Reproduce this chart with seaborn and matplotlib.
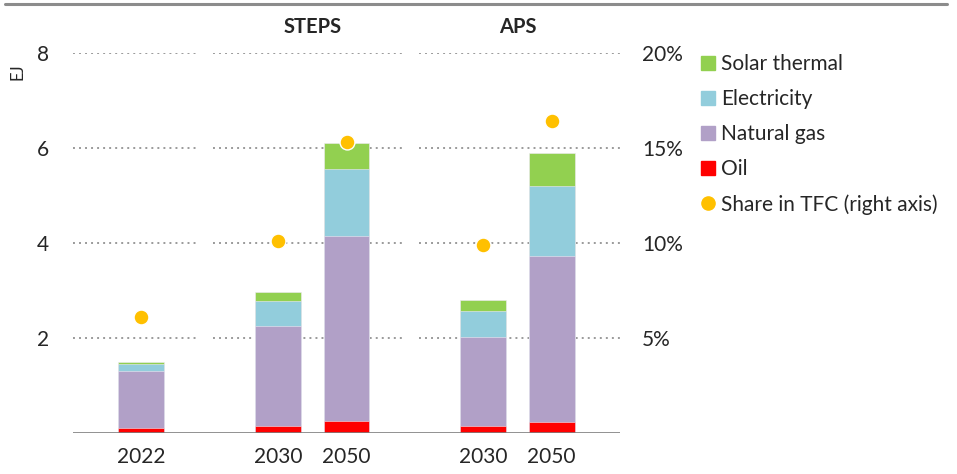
import pandas as pd
import matplotlib.pyplot as plt
from matplotlib.lines import Line2D
import seaborn as sns

# data (EJ and % of TFC)
years = ["2022", "2030", "2050", "2030", "2050"]
scenarios = ["", "STEPS", "STEPS", "APS", "APS"]
oil = [0.10, 0.14, 0.25, 0.14, 0.23]
natural_gas = [1.20, 2.11, 3.90, 1.88, 3.50]
electricity = [0.16, 0.52, 1.40, 0.55, 1.47]
solar_thermal = [0.04, 0.20, 0.56, 0.24, 0.69]
share_tfc = [6.1, 10.1, 15.3, 9.9, 16.4]

# group slots on the category axis
xpos = [0, 2, 3, 5, 6]

colors = {
    "Solar thermal": "#92D050",
    "Electricity": "#92CDDC",
    "Natural gas": "#B1A0C7",
    "Oil": "#FF0000",
}
dot_color = "#FFC000"

sns.set_theme(style="white")
plt.rcParams["font.family"] = ["Lato", "DejaVu Sans"]

df = pd.DataFrame({
    "x": xpos, "Oil": oil, "Natural gas": natural_gas,
    "Electricity": electricity, "Solar thermal": solar_thermal,
    "share": share_tfc,
})
# cumulative tops, drawn from the highest layer down
df["top_oil"] = df["Oil"]
df["top_gas"] = df["top_oil"] + df["Natural gas"]
df["top_elec"] = df["top_gas"] + df["Electricity"]
df["top_solar"] = df["top_elec"] + df["Solar thermal"]

fig = plt.figure(figsize=(9.57, 4.74), dpi=100)
ax = fig.add_axes([73 / 957, 41 / 474, 547 / 957, 380 / 474])

layers = [("top_solar", "Solar thermal"), ("top_elec", "Electricity"),
          ("top_gas", "Natural gas"), ("top_oil", "Oil")]
for col, name in layers:
    sns.barplot(data=df, x="x", y=col, native_scale=True, width=0.67,
                color=colors[name], saturation=1, edgecolor="#EEEAF4",
                linewidth=0.4, ax=ax, zorder=3)

ax.set_xlim(-1, 7)
ax.set_ylim(0, 8)

# dotted gridlines, broken between the three panels
for y in [2, 4, 6, 8]:
    for x0, x1 in [(-1, 0.82), (1.05, 3.82), (4.06, 7)]:
        ax.hlines(y, x0, x1, colors="#9A9A9A", linewidth=1.4,
                  linestyles=(0, (1, 2.1)), zorder=1)

ax.axhline(0, color="#7F7F7F", linewidth=1.2, zorder=4)
for s in ax.spines.values():
    s.set_visible(False)

ax.set_xticks(xpos)
ax.set_xticklabels(years, fontsize=15)
ax.set_yticks([2, 4, 6, 8])
ax.set_yticklabels(["2", "4", "6", "8"], fontsize=15)
ax.tick_params(axis="x", length=0, pad=10)
ax.tick_params(axis="y", length=0, pad=17)
ax.set_xlabel("")
ax.set_ylabel("")

ax2 = ax.twinx()
sns.scatterplot(data=df, x="x", y="share", color=dot_color, s=115,
                edgecolor="white", linewidth=1, ax=ax2, zorder=5)
ax2.set_ylim(0, 20)
ax2.set_xlim(-1, 7)
ax2.set_yticks([5, 10, 15, 20])
ax2.set_yticklabels(["5%", "10%", "15%", "20%"], fontsize=15)
ax2.tick_params(axis="y", length=0, pad=16)
ax2.set_ylabel("")
for s in ax2.spines.values():
    s.set_visible(False)

# scenario headers
for name in ["STEPS", "APS"]:
    pos = [p for p, sc in zip(xpos, scenarios) if sc == name]
    ax.text(sum(pos) / len(pos), 8.55, name, ha="center", va="center",
            fontsize=14.5, fontweight="bold", clip_on=False)

fig.text(17 / 957, 1 - 72 / 474, "EJ", rotation=90, ha="center",
         va="center", fontsize=12)

# top rule
fig.add_artist(Line2D([0.005, 0.99], [1 - 4 / 474, 1 - 4 / 474],
                      color="#8C8C8C", linewidth=2.2))

handles = [Line2D([], [], marker="s", linestyle="", markersize=9.5,
                  color=colors[n]) for n in ["Solar thermal", "Electricity", "Natural gas", "Oil"]]
handles.append(Line2D([], [], marker="o", linestyle="", markersize=9.5,
                      color=dot_color))
labels = ["Solar thermal", "Electricity", "Natural gas", "Oil",
          "Share in TFC (right axis)"]
fig.legend(handles, labels, loc="upper left",
           bbox_to_anchor=(700 / 957, 1 - 54 / 474), frameon=False,
           fontsize=15, handlelength=0.8, handletextpad=0.2,
           labelspacing=0.72, borderpad=0, borderaxespad=0)

fig.savefig("out.png", dpi=100)
